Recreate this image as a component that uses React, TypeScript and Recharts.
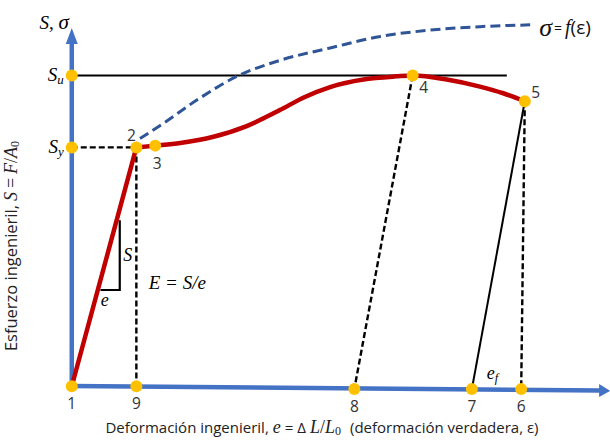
import React from 'react';
import { ComposedChart, Line, XAxis, YAxis } from 'recharts';

// Engineering strain e (arbitrary % units) and engineering stress S (arbitrary units)
const pointIds = ['1', '2', '3', '4', '5', '6', '7', '8', '9', 'Su', 'Sy'];
const pointE = [0, 7.2, 9.3, 38.0, 50.5, 50.1, 44.6, 31.5, 7.2, 0, 0];
const pointS = [0, 269, 271, 350, 321, -3.2, -3.2, -3, 0, 350, 269];

const elasticE = [0, 7.2];
const elasticS = [0, 269];

const plasticE = [7.2, 9.3, 12.1, 15.8, 19.5, 23.2, 25.8, 28.8, 32.5, 36.2, 38.0, 41.8, 45.5, 48.1, 50.5];
const plasticS = [269, 271, 274, 281, 293, 311, 325, 337, 345.5, 349, 350, 345.5, 337.5, 330, 321];

const trueE = [7.6, 10.2, 13.9, 18.4, 23.2, 28.8, 34.4, 39.9, 45.5, 51.1];
const trueS = [279, 296, 322, 349, 367, 381, 394, 401, 405, 407];

const ultimateE = [0, 48.5];
const ultimateS = [350, 350];
const yieldE = [0, 7.2];
const yieldS = [269, 269];

const unload29E = [7.2, 7.2];
const unload29S = [269, 0];
const unload48E = [38.0, 31.5];
const unload48S = [350, -3];
const unload56E = [50.5, 50.1];
const unload56S = [321, -3.2];
const unload57E = [50.5, 44.6];
const unload57S = [321, -3.2];

const slopeE = [5.35, 5.35, 3.2];
const slopeS = [187, 108.4, 108.4];

const xAxisE = [-0.2, 58.9];
const xAxisS = [0.3, -4.7];
const yAxisE = [0, 0];
const yAxisS = [-1.5, 386.6];

const zip = (es: number[], ss: number[]) => es.map((e, i) => ({ e, S: ss[i] }));

const pointsData = pointIds.map((id, i) => ({ id, e: pointE[i], S: pointS[i] }));

const SANS = '"Open Sans", "Noto Sans", sans-serif';
const SERIF = '"Liberation Serif", "DejaVu Serif", serif';
const NUM_COLOR = '#333';

const mathSub = (main: string, sub: string, size: number) => (
  <>
    <tspan fontFamily={SERIF} fontStyle="italic" fontSize={size}>{main}</tspan>
    <tspan fontFamily={SERIF} fontStyle="italic" fontSize={size * 0.68} dy={size * 0.25}>{sub}</tspan>
  </>
);

const pointLabels: Record<string, { dx: number; dy: number; anchor?: string; content: React.ReactNode }> = {
  '1': { dx: 0, dy: 17, content: '1' },
  '2': { dx: -5, dy: -12, content: '2' },
  '3': { dx: 2, dy: 17, content: '3' },
  '4': { dx: 11, dy: 12, content: '4' },
  '5': { dx: 11, dy: -9, content: '5' },
  '6': { dx: 0, dy: 17, content: '6' },
  '7': { dx: 0, dy: 17, content: '7' },
  '8': { dx: 0, dy: 17, content: '8' },
  '9': { dx: 0, dy: 17, content: '9' },
  Su: { dx: -8, dy: -1, anchor: 'end', content: mathSub('S', 'u', 19) },
  Sy: { dx: -8, dy: -1, anchor: 'end', content: mathSub('S', 'y', 19) },
};

const renderPoint = (p: any) => {
  const { cx, cy, index, payload } = p;
  const lab = pointLabels[payload.id];
  const isNum = /^\d$/.test(payload.id);
  return (
    <g key={`pt-${index}`}>
      <circle cx={cx} cy={cy} r={6} fill="#FFC000" />
      {lab && (
        <text
          x={cx + lab.dx}
          y={cy + lab.dy}
          textAnchor={lab.anchor || 'middle'}
          dominantBaseline="central"
          fontFamily={SANS}
          fontSize={15.5}
          fill={isNum ? NUM_COLOR : '#000'}
        >
          {lab.content}
        </text>
      )}
    </g>
  );
};

const renderTrueEnd = (p: any) => {
  const { cx, cy, index } = p;
  if (index !== trueE.length - 1) return <g key={`te-${index}`} />;
  return (
    <g key={`te-${index}`}>
      <text x={cx + 9} y={cy + 2} dominantBaseline="central" fill="#111">
        <tspan fontFamily={SERIF} fontStyle="italic" fontSize={26}>σ</tspan>
        <tspan fontFamily={SANS} fontSize={14} dx={2}>=</tspan>
        <tspan fontFamily={SERIF} fontStyle="italic" fontSize={20} dx={3}>f</tspan>
        <tspan fontFamily={SANS} fontSize={19}>(ε)</tspan>
      </text>
    </g>
  );
};

const renderSlope = (p: any) => {
  const { cx, cy, index } = p;
  if (index !== 1) return <g key={`sl-${index}`} />;
  return (
    <g key={`sl-${index}`}>
      <text x={cx + 8} y={cy - 35} textAnchor="middle" dominantBaseline="central" fontFamily={SERIF} fontStyle="italic" fontSize={18}>S</text>
      <text x={cx - 15} y={cy + 10} textAnchor="middle" dominantBaseline="central" fontFamily={SERIF} fontStyle="italic" fontSize={18}>e</text>
      <text x={cx + 29} y={cy - 8} dominantBaseline="central" fontFamily={SERIF} fontStyle="italic" fontSize={19}>
        E = S/e
      </text>
    </g>
  );
};

const renderUnload57 = (p: any) => {
  const { cx, cy, index } = p;
  if (index !== 1) return <g key={`u7-${index}`} />;
  return (
    <g key={`u7-${index}`}>
      <text x={cx + 15} y={cy - 16} dominantBaseline="central">{mathSub('e', 'f', 18)}</text>
    </g>
  );
};

const renderXAxisEnd = (p: any) => {
  const { cx, cy, index } = p;
  if (index === 0) {
    return (
      <g key={`xa-${index}`}>
        <text x={cx + 252} y={cy + 41} textAnchor="middle" dominantBaseline="central" fontFamily={SANS} fontSize={15} fill="#222">
          Deformación ingenieril,
          <tspan fontFamily={SERIF} fontStyle="italic" fontSize={18} dx={4}>e</tspan>
          <tspan dx={4}>= Δ</tspan>
          <tspan fontFamily={SERIF} fontStyle="italic" fontSize={18} dx={4}>L</tspan>
          <tspan fontFamily={SERIF} fontSize={18}>/</tspan>
          <tspan fontFamily={SERIF} fontStyle="italic" fontSize={18}>L</tspan>
          <tspan fontFamily={SERIF} fontSize={12} dy={4}>0</tspan>
          <tspan dy={-4} dx={9}>(deformación verdadera, ε)</tspan>
        </text>
        <text
          x={cx - 59}
          y={cy - 140}
          transform={`rotate(-90 ${cx - 59} ${cy - 140})`}
          textAnchor="middle"
          dominantBaseline="central"
          fontFamily={SANS}
          fontSize={16.5}
          fill="#222"
        >
          Esfuerzo ingenieril,
          <tspan fontFamily={SERIF} fontStyle="italic" fontSize={18} dx={4}>S</tspan>
          <tspan fontFamily={SERIF} fontSize={18} dx={4}>=</tspan>
          <tspan fontFamily={SERIF} fontStyle="italic" fontSize={18} dx={4}>F</tspan>
          <tspan fontFamily={SERIF} fontSize={18}>/</tspan>
          <tspan fontFamily={SERIF} fontStyle="italic" fontSize={18}>A</tspan>
          <tspan fontFamily={SERIF} fontSize={12} dy={4}>0</tspan>
        </text>
      </g>
    );
  }
  return (
    <g key={`xa-${index}`}>
      <polygon points={`${cx - 1},${cy - 6.5} ${cx + 10},${cy + 0.5} ${cx - 1},${cy + 6.5}`} fill="#4472C4" />
    </g>
  );
};

const renderYAxisEnd = (p: any) => {
  const { cx, cy, index } = p;
  if (index === 0) return <g key={`ya-${index}`} />;
  return (
    <g key={`ya-${index}`}>
      <polygon points={`${cx - 6},${cy + 1} ${cx},${cy - 15} ${cx + 6},${cy + 1}`} fill="#4472C4" />
      <text x={cx - 3} y={cy - 21} textAnchor="end" dominantBaseline="central" fill="#000">
        <tspan fontFamily={SERIF} fontStyle="italic" fontSize={19}>S</tspan>
        <tspan fontFamily={SERIF} fontSize={19}>, </tspan>
        <tspan fontFamily={SERIF} fontStyle="italic" fontSize={21}>σ</tspan>
      </text>
    </g>
  );
};

export default function App() {
  const common = { dataKey: 'S', isAnimationActive: false, activeDot: false, legendType: 'none' as const };
  return (
    <div style={{ position: 'absolute', left: 0, top: 0, width: 610, height: 444, background: '#fff' }}>
      <ComposedChart width={610} height={444} margin={{ top: 0, right: 0, bottom: 0, left: 0 }}>
        <XAxis type="number" dataKey="e" domain={[-8, 60]} hide allowDataOverflow />
        <YAxis type="number" dataKey="S" domain={[-65, 435]} hide allowDataOverflow />

        <Line {...common} data={zip(ultimateE, ultimateS)} stroke="#000" strokeWidth={1.8} dot={false} type="linear" />
        <Line {...common} data={zip(yieldE, yieldS)} stroke="#000" strokeWidth={2.4} strokeDasharray="6 3" dot={false} type="linear" />
        <Line {...common} data={zip(unload29E, unload29S)} stroke="#000" strokeWidth={2.4} strokeDasharray="6 3" dot={false} type="linear" />
        <Line {...common} data={zip(unload48E, unload48S)} stroke="#000" strokeWidth={2.4} strokeDasharray="6 3" dot={false} type="linear" />
        <Line {...common} data={zip(unload56E, unload56S)} stroke="#000" strokeWidth={2.4} strokeDasharray="6 3" dot={false} type="linear" />
        <Line {...common} data={zip(unload57E, unload57S)} stroke="#000" strokeWidth={2} dot={renderUnload57} type="linear" />
        <Line {...common} data={zip(slopeE, slopeS)} stroke="#000" strokeWidth={2.2} dot={renderSlope} type="linear" />

        <Line {...common} data={zip(trueE, trueS)} stroke="#2F5597" strokeWidth={3} strokeDasharray="10 5" dot={renderTrueEnd} type="monotone" />

        <Line {...common} data={zip(xAxisE, xAxisS)} stroke="#4472C4" strokeWidth={4.5} dot={renderXAxisEnd} type="linear" />
        <Line {...common} data={zip(yAxisE, yAxisS)} stroke="#4472C4" strokeWidth={4.5} dot={renderYAxisEnd} type="linear" />

        <Line {...common} data={zip(elasticE, elasticS)} stroke="#C00000" strokeWidth={4.5} strokeLinecap="round" dot={false} type="linear" />
        <Line {...common} data={zip(plasticE, plasticS)} stroke="#C00000" strokeWidth={4.5} strokeLinecap="round" dot={false} type="monotone" />

        <Line {...common} data={pointsData} stroke="none" strokeWidth={0} dot={renderPoint} type="linear" />
      </ComposedChart>
    </div>
  );
}
